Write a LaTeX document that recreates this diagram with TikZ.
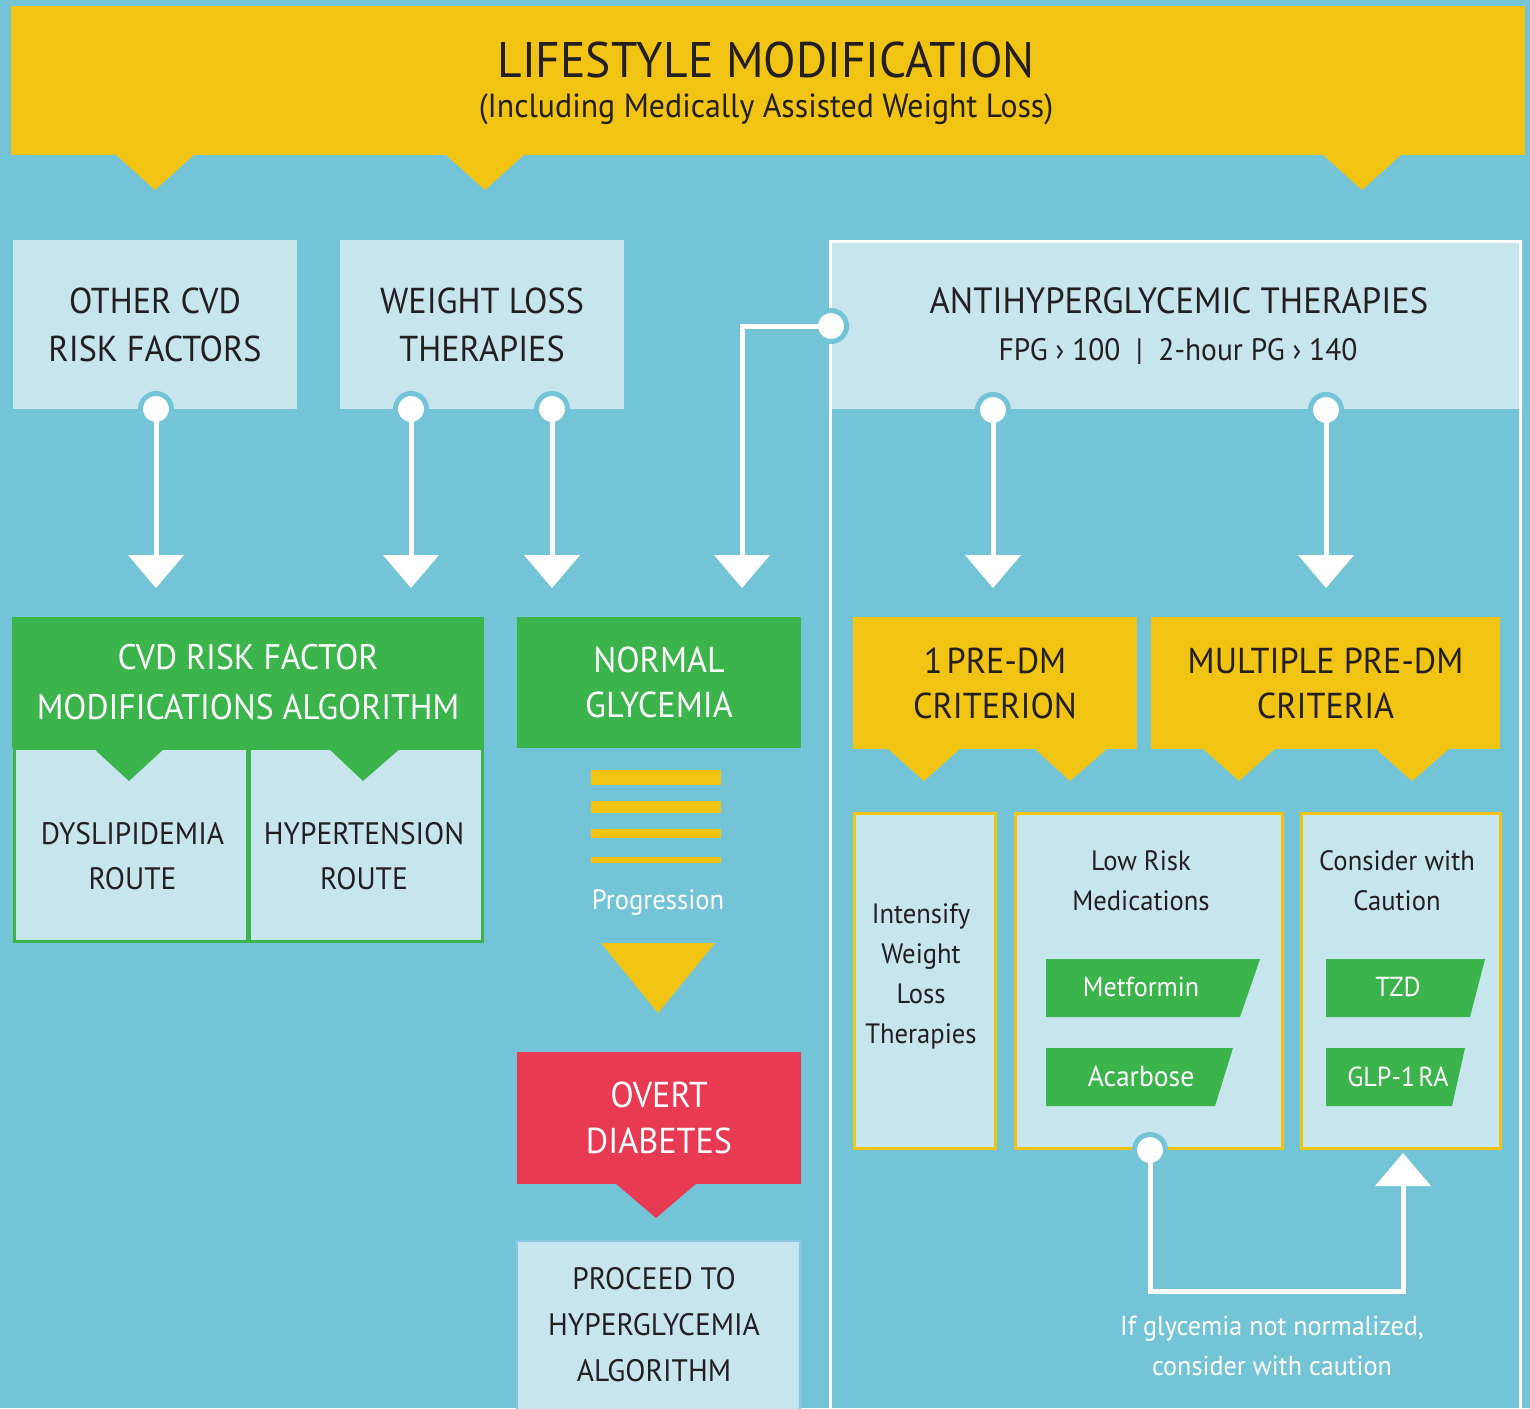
\documentclass[tikz,border=0pt]{standalone}
\usepackage{fontspec}
\setmainfont[FakeStretch=0.95]{PT Sans}
\usetikzlibrary{arrows.meta}
\definecolor{bgc}{RGB}{116,196,216}
\definecolor{lightc}{RGB}{199,229,237}
\definecolor{yelc}{RGB}{241,196,20}
\definecolor{grc}{RGB}{59,180,75}
\definecolor{redc}{RGB}{232,58,82}
\definecolor{txtc}{RGB}{35,31,32}
\definecolor{framec}{RGB}{140,198,230}
\newcommand{\fsz}[2]{\fontsize{#1}{#2}\selectfont}
\begin{document}
\begin{tikzpicture}[x=1pt,y=-1pt,
  every node/.style={inner sep=0pt, outer sep=0pt},
  dark/.style={text=txtc, align=center},
  lite/.style={text=white, align=center},
  lbox/.style={fill=lightc},
  ybox/.style={fill=yelc},
  gbox/.style={fill=grc},
  rbox/.style={fill=redc},
  gsub/.style={fill=lightc, draw=grc, line width=3pt},
  ysub/.style={fill=lightc, draw=yelc, line width=3pt},
  pbox/.style={fill=lightc, draw=framec, line width=2pt},
  dot/.style={circle, fill=white, draw=bgc, line width=5pt, minimum size=31pt},
  conn/.style={draw=white, line width=5pt, line join=miter,
    -{Triangle[width=56pt,length=33pt,line width=0pt]}},
  hdr/.style={font=\fsz{36}{48}},
  big/.style={font=\fsz{36}{45}},
  sml/.style={font=\fsz{28}{28}, anchor=base},
  med/.style={font=\fsz{28}{28}, anchor=base},
]
\useasboundingbox (0,0) rectangle (1530,1408);
\fill[bgc] (0,0) rectangle (1530,1408);

% top banner
\node[ybox, minimum width=1514, minimum height=149] (banner) at (768,80.5) {};
\fill[yelc] (115,154) -- (155,190) -- (195,154) -- cycle;
\fill[yelc] (445,154) -- (485,190) -- (525,154) -- cycle;
\fill[yelc] (1322,154) -- (1362,190) -- (1402,154) -- cycle;
\node[dark, font=\fsz{50}{50}, anchor=base] (title) at (766,77) {LIFESTYLE MODIFICATION};
\node[dark, font=\fsz{33.5}{33.5}, anchor=base] (subtitle) at (766,117) {(Including Medically Assisted Weight Loss)};

% row 2
\node[lbox, dark, hdr, minimum width=284, minimum height=169] (othercvd) at (155,324.5) {OTHER CVD\\RISK FACTORS};
\node[lbox, dark, hdr, minimum width=284, minimum height=169] (wlt) at (482,324.5) {WEIGHT LOSS\\THERAPIES};
\node[lbox, minimum width=690, minimum height=168] (anti) at (1175,325) {};
\draw[white, line width=3pt] (830,1420) -- (830,241.5) -- (1520,241.5) -- (1520,1420);
\node[dark, font=\fsz{36.5}{36.5}, anchor=base] (antitxt) at (1179,313) {ANTIHYPERGLYCEMIC THERAPIES};
\node[dark, font=\fsz{31}{31}, anchor=base] (crit) at (1178,360) {FPG › 100\hspace{0.5em}|\hspace{0.5em}2-hour PG › 140};

% CVD algorithm
\node[gbox, lite, font=\fsz{35.5}{50}, minimum width=472, minimum height=131] (cvdalg) at (248,682.5) {CVD RISK FACTOR\\MODIFICATIONS ALGORITHM};
\node[gsub, minimum width=233, minimum height=193] (dys) at (130.5,845) {};
\node[gsub, minimum width=233, minimum height=193] (hyp) at (366,845) {};
\fill[grc] (92,747) -- (129,781) -- (166,747) -- cycle;
\fill[grc] (327,747) -- (363,781) -- (402,747) -- cycle;
\node[dark, font=\fsz{31}{45}] (dystxt) at (132.5,856) {DYSLIPIDEMIA\\ROUTE};
\node[dark, font=\fsz{31}{45}] (hyptxt) at (364,856) {HYPERTENSION\\ROUTE};

% middle column
\node[gbox, lite, big, minimum width=284, minimum height=131] (normal) at (659,682.5) {NORMAL\\GLYCEMIA};
\fill[yelc] (591,770) rectangle (721,785);
\fill[yelc] (591,801) rectangle (721,813);
\fill[yelc] (591,829) rectangle (721,838);
\fill[yelc] (591,857) rectangle (721,863);
\node[lite, sml] (prog) at (658,909.5) {Progression};
\fill[yelc] (601,943) -- (658,1013) -- (715,943) -- cycle;
\node[rbox, lite, font=\fsz{36}{46}, minimum width=284, minimum height=132] (overt) at (659,1118) {OVERT\\DIABETES};
\fill[redc] (615,1183) -- (656,1218) -- (697,1183) -- cycle;
\node[pbox, minimum width=283, minimum height=179] (proceed) at (658.5,1330.5) {};
\node[dark, font=\fsz{31}{46}] (proctxt) at (654,1325) {PROCEED TO\\HYPERGLYCEMIA\\ALGORITHM};

% right column
\node[ybox, dark, big, minimum width=284, minimum height=132] (pre1) at (995,683) {1\hspace{0.12em}PRE-DM\\CRITERION};
\node[ybox, dark, big, minimum width=349, minimum height=132] (prem) at (1325.5,683) {MULTIPLE PRE-DM\\CRITERIA};
\fill[yelc] (887,748) -- (924,781) -- (961,748) -- cycle;
\fill[yelc] (1034,748) -- (1070,781) -- (1108,748) -- cycle;
\fill[yelc] (1202,748) -- (1239,781) -- (1276,748) -- cycle;
\fill[yelc] (1375,748) -- (1412,781) -- (1450,748) -- cycle;

\node[ysub, minimum width=141, minimum height=335] (intens) at (925,981) {};
\node[ysub, minimum width=267, minimum height=335] (lowrisk) at (1149,981) {};
\node[ysub, minimum width=199, minimum height=335] (caution) at (1401,981) {};

\node[dark, sml] (in1) at (921,923) {Intensify};
\node[dark, sml] (in2) at (921,963) {Weight};
\node[dark, sml] (in3) at (921,1003) {Loss};
\node[dark, sml] (in4) at (921,1043) {Therapies};
\node[dark, sml] (lr1) at (1141,870) {Low Risk};
\node[dark, sml] (lr2) at (1141,910) {Medications};
\node[dark, sml] (ca1) at (1397,870) {Consider with};
\node[dark, sml] (ca2) at (1397,910) {Caution};

\fill[grc] (1046,959) -- (1260,959) -- (1240,1017) -- (1046,1017) -- cycle;
\fill[grc] (1046,1048) -- (1233,1048) -- (1215,1106) -- (1046,1106) -- cycle;
\fill[grc] (1326,959) -- (1485,959) -- (1470,1017) -- (1326,1017) -- cycle;
\fill[grc] (1326,1048) -- (1465,1048) -- (1452,1106) -- (1326,1106) -- cycle;
\node[lite, font=\fsz{27.5}{27.5}, anchor=base] (met) at (1141,996) {Metformin};
\node[lite, font=\fsz{29}{29}, anchor=base] (aca) at (1141,1086) {Acarbose};
\node[lite, font=\fsz{27.5}{27.5}, anchor=base] (tzd) at (1398,996) {TZD};
\node[lite, font=\fsz{27.5}{27.5}, anchor=base] (glp) at (1398,1086) {GLP-1\hspace{0.12em}RA};

\node[lite, font=\fsz{27.5}{27.5}, anchor=base] (note1) at (1272,1335) {If glycemia not normalized,};
\node[lite, font=\fsz{27.5}{27.5}, anchor=base] (note2) at (1272,1375) {consider with caution};

% connector dots
\node[dot] (d1) at (156,409) {};
\node[dot] (d2) at (411,409) {};
\node[dot] (d3) at (552,409) {};
\node[dot] (d4) at (831,326) {};
\node[dot] (d5) at (993,410) {};
\node[dot] (d6) at (1326,410) {};
\node[dot] (d7) at (1150,1150) {};
\coordinate (j4) at (742,588);
\coordinate (fbc) at (1403,1291);
\coordinate (fbt) at (1403,1153);

% connectors
\draw[conn, shorten >=29pt] (d1.center) -- (d1.center |- cvdalg.north);
\draw[conn, shorten >=29pt] (d2.center) -- (d2.center |- cvdalg.north);
\draw[conn, shorten >=29pt] (d3.center) -- (d3.center |- normal.north);
\draw[conn] (d4.center) -| (j4);
\draw[conn, shorten >=29pt] (d5.center) -- (d5.center |- pre1.north);
\draw[conn, shorten >=29pt] (d6.center) -- (d6.center |- prem.north);
\draw[conn] (d7.center) |- (fbc) -- (fbt);
\end{tikzpicture}
\end{document}
